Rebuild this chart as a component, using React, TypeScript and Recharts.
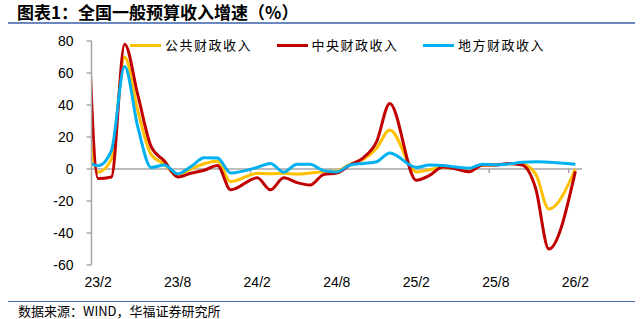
import React from 'react';
import { LineChart, Line, XAxis, YAxis, ReferenceLine } from 'recharts';

// Months (index 0 is an off-chart anchor left of the plot; January is not reported separately)
const months = [
  '23/1', '23/2', '23/3', '23/4', '23/5', '23/6', '23/7', '23/8', '23/9', '23/10', '23/11', '23/12',
  '24/1', '24/2', '24/3', '24/4', '24/5', '24/6', '24/7', '24/8', '24/9', '24/10', '24/11', '24/12',
  '25/1', '25/2', '25/3', '25/4', '25/5', '25/6', '25/7', '25/8', '25/9', '25/10', '25/11', '25/12',
  '26/1', '26/2',
];

// 公共财政收入 (%)
const totalRevenue: (number | null)[] = [
  43, -2, 6, 70, 36, 9, 3, -4, 0, 3.3, 4.8, -7.9,
  null, -2.7, -3, -2.7, -3.2, -2.5, -1.7, -1.3, 3, 6, 13, 24.4,
  null, -1.8, -0.5, 1, 0.5, -1, 2.5, 2.5, 3.3, 3, -3, -25,
  null, 0,
];

// 中央财政收入 (%)
const centralRevenue: (number | null)[] = [
  155, -6, -5, 78, 46, 14, 5, -5, -2.7, -0.8, 2.2, -13,
  null, -5.5, -13, -5.5, -8.5, -10, -3.5, -2.5, 2.5, 7, 17, 41,
  null, -7, -4, 1.2, 0, -1.7, 2.5, 2.5, 3.5, 2.5, -12, -50,
  null, -1.5,
];

// 地方财政收入 (%)
const localRevenue: (number | null)[] = [
  6, 2, 11.5, 64, 26, 1, 2.5, -3, 1.5, 7, 6.8, -2.5,
  null, 1, 3.5, -2, 3, 3, -1, -1.8, 2.5, 3.5, 4.5, 10,
  null, 1, 2.5, 2.2, 1.2, 0.5, 3, 2.5, 3.2, 4.2, 4.6, 4.2,
  null, 3,
];

const seriesKeys = ['total', 'central', 'local'];
const seriesNames = ['公共财政收入', '中央财政收入', '地方财政收入'];
const seriesColors = ['#FFC000', '#C00000', '#00B0F0'];

const xTickIndexes = [1, 7, 13, 19, 25, 31, 37];
const xTickBoundaries = [6.5, 12.5, 18.5, 24.5, 30.5, 36.5];
const xDomain: [number, number] = [0.5, 37.5];
const yTicks = [-60, -40, -20, 0, 20, 40, 60, 80];
const yDomain: [number, number] = [-60, 80];

const data = months.map((m, i) => ({
  idx: i,
  month: m,
  total: totalRevenue[i],
  central: centralRevenue[i],
  local: localRevenue[i],
}));

const numFont = '"Liberation Sans", Arial, sans-serif';
const cjkFont = '"Noto Sans CJK SC", sans-serif';

function ChartLegend() {
  return (
    <div style={{ position: 'absolute', left: 130, top: 36, display: 'flex', alignItems: 'center', height: 18 }}>
      {seriesNames.map((name, i) => (
        <div key={name} style={{ width: 146.5, display: 'flex', alignItems: 'center' }}>
          <span style={{ display: 'inline-block', width: 31, height: 3, background: seriesColors[i], marginRight: 4 }} />
          <span style={{ fontSize: 13, letterSpacing: 1.5, fontFamily: cjkFont, color: '#000', lineHeight: '18px' }}>
            {name}
          </span>
        </div>
      ))}
    </div>
  );
}

export default function App() {
  return (
    <div style={{ position: 'absolute', left: 0, top: 0, width: 640, height: 319, background: '#fff', overflow: 'hidden' }}>
      <div
        style={{
          position: 'absolute', left: 17, top: 1, fontFamily: cjkFont, fontWeight: 700,
          fontSize: 17, lineHeight: '22px', color: '#000', whiteSpace: 'nowrap',
        }}
      >
        图表1：全国一般预算收入增速（%）
      </div>
      <div style={{ position: 'absolute', left: 8, top: 22, width: 627, height: 2, background: '#6a87bf' }} />

      <div style={{ position: 'absolute', left: 0, top: 0 }}>
        <LineChart
          width={640}
          height={319}
          data={data}
          margin={{ top: 41, right: 58, bottom: 24, left: 31.5 }}
        >
          <XAxis
            type="number"
            dataKey="idx"
            domain={xDomain}
            allowDataOverflow
            ticks={xTickIndexes}
            interval={0}
            tickFormatter={(v: number) => months[v]}
            axisLine={false}
            tickLine={false}
            tickSize={6}
            tickMargin={6}
            height={30}
            tick={{ fontSize: 14, fill: '#000', fontFamily: numFont }}
          />
          <YAxis
            type="number"
            domain={yDomain}
            allowDataOverflow
            ticks={yTicks}
            interval={0}
            width={60}
            tickSize={5}
            tickMargin={13}
            axisLine={{ stroke: '#a6a6a6', strokeWidth: 1.5 }}
            tickLine={{ stroke: '#a6a6a6', strokeWidth: 1.5 }}
            tick={{ fontSize: 14, fill: '#000', fontFamily: numFont }}
          />
          <ReferenceLine y={0} stroke="#a6a6a6" strokeWidth={1.5} />
          {xTickBoundaries.map((b) => (
            <ReferenceLine
              key={b}
              segment={[{ x: b, y: 0 }, { x: b, y: -2.5 }]}
              stroke="#a6a6a6"
              strokeWidth={1.5}
            />
          ))}
          {seriesKeys.map((k, i) => (
            <Line
              key={k}
              type="monotone"
              dataKey={k}
              name={seriesNames[i]}
              stroke={seriesColors[i]}
              strokeWidth={3}
              dot={false}
              activeDot={false}
              connectNulls
              isAnimationActive={false}
            />
          ))}
        </LineChart>
      </div>

      <ChartLegend />

      <div style={{ position: 'absolute', left: 8, top: 301, width: 627, height: 1, background: '#4a6fb0' }} />
      <div
        style={{
          position: 'absolute', left: 18, top: 303, fontFamily: cjkFont, fontSize: 13,
          lineHeight: '16px', color: '#000', whiteSpace: 'nowrap',
        }}
      >
        数据来源：WIND，华福证券研究所
      </div>
    </div>
  );
}
